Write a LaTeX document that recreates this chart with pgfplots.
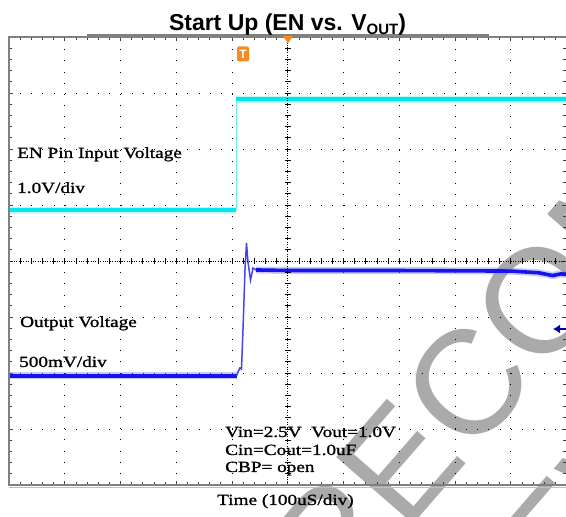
\documentclass[border=0pt]{standalone}
\usepackage{pgfplots}
\pgfplotsset{compat=1.18}
\usetikzlibrary{arrows.meta}
\usepackage{fontspec}
\setmainfont{Liberation Serif}
\newfontfamily\lab[FakeStretch=1.24, FakeBold=1.2]{Liberation Serif}
\newfontfamily\tit{Liberation Sans}
\definecolor{cyantr}{RGB}{0,232,236}
\definecolor{bluetr}{RGB}{20,20,235}
\definecolor{darkbl}{RGB}{0,0,160}
\definecolor{orT}{RGB}{247,140,30}
\definecolor{framegray}{RGB}{128,128,128}
\definecolor{wm}{RGB}{170,170,170}
\begin{document}
\begin{tikzpicture}[x=1pt,y=1pt]
\begin{axis}[name=ax, at={(0,0)}, anchor=south west, scale only axis,
  set layers,
  width=557.5pt, height=448pt,
  xmin=-5, xmax=5, ymin=-4, ymax=4,
  xtick={-5,...,5}, ytick={-4,...,4},
  minor x tick num=4, minor y tick num=4,
  xticklabels={}, yticklabels={},
  tick align=inside,
  major tick length=4pt, minor tick length=3pt,
  tick style={black!75, line width=0.7pt},
  axis line style={draw=none},
  grid=major,
  major grid style={black, line width=0.9pt, dash pattern=on 0.9pt off 10.25pt},
  clip=false]
\begin{pgfonlayer}{axis background}
\node[rotate=49, anchor=base west, inner sep=0, text=wm, font=\tit\fontsize{148}{148}\selectfont] at (axis cs:0.86,-6.30) {RECOMMENDED};
\node[rotate=49, anchor=base west, inner sep=0, text=wm, font=\tit\fontsize{148}{148}\selectfont] at (axis cs:3.725,-7.69) {NEW DESIGN};
\end{pgfonlayer}
% EN (cyan)
\addplot[cyantr!55, line width=7pt, opacity=0.45] coordinates {(-5,0.91) (-0.925,0.91)};
\addplot[cyantr, line width=3.8pt] coordinates {(-5,0.91) (-0.925,0.91)};
\addplot[cyantr!60, line width=1pt] coordinates {(-0.925,0.91) (-0.925,2.89)};
\addplot[cyantr!55, line width=7pt, opacity=0.45] coordinates {(-0.925,2.89) (5,2.89)};
\addplot[cyantr, line width=3.8pt] coordinates {(-0.925,2.89) (5,2.89)};
% VOUT (blue)
\addplot[bluetr!55, line width=7pt, opacity=0.4] coordinates {(-5,-2.05) (-0.916,-2.05)};
\addplot[bluetr, line width=3.6pt] coordinates {(-5,-2.05) (-0.916,-2.05)};
\addplot[bluetr!80, line width=1.5pt] coordinates {(-0.916,-2.05) (-0.892,-1.98) (-0.857,-1.91) (-0.830,-1.93) (-0.803,-1.23) (-0.767,-0.16) (-0.740,0.32) (-0.713,-0.02) (-0.668,-0.34) (-0.623,-0.125) (-0.57,-0.16)};
\addplot[bluetr!55, line width=7pt, opacity=0.4] coordinates {(-0.57,-0.16) (0,-0.17) (2,-0.17) (4,-0.18) (4.5,-0.21) (4.75,-0.26) (4.9,-0.23) (5,-0.24)};
\addplot[bluetr, line width=3.6pt] coordinates {(-0.57,-0.16) (0,-0.17) (2,-0.17) (4,-0.18) (4.5,-0.21) (4.75,-0.26) (4.9,-0.23) (5,-0.24)};
\end{axis}
\begin{scope}[shift={(ax.south west)}, xshift=-9pt, yshift=-32pt]
% center lines of graticule
\draw[black, line width=0.8pt, dash pattern=on 0.8pt off 1.6pt] (9,256) -- (566.5,256);
\draw[black, line width=0.8pt, dash pattern=on 0.8pt off 1.6pt] (287.75,32) -- (287.75,480);
\foreach \k in {1,...,49} {\draw[black, line width=0.7pt] (9+\k*11.15,253) -- (9+\k*11.15,259);}
\foreach \k in {1,...,39} {\draw[black, line width=0.7pt] (284.75,32+\k*11.2) -- (290.75,32+\k*11.2);}
% frame
\draw[framegray, line width=2.5pt] (567,480) -- (9,480) -- (9,32) -- (567,32);
\draw[framegray, line width=2.5pt] (87,482) -- (489,482);
\draw[black!25, line width=1.5pt] (9,29.5) -- (566,29.5);
% scope markers
\fill[orT] (283,481) -- (293,481) -- (288,473.5) -- cycle;
\node[fill=orT, rounded corners=2pt, minimum width=12pt, minimum height=15pt, inner sep=0pt, text=white, font=\tit\bfseries\fontsize{12}{12}\selectfont] at (243,463) {T};
\draw[-{Latex[length=7pt,width=9pt]}, darkbl, line width=2.2pt] (568,188) -- (553,188);
% title
\node[anchor=base, inner sep=0] at (287.5,486) {\tit\bfseries\fontsize{23}{27}\selectfont Start Up (EN vs. V\raisebox{-3.5pt}{\fontsize{15}{15}\selectfont OUT})};
% labels
\begin{scope}[every node/.style={anchor=base west, inner sep=0, font=\lab\fontsize{15.5}{18}\selectfont}]
\node at (17,359) {EN Pin Input Voltage};
\node at (17,324) {1.0V/div};
\node at (20,190) {Output Voltage};
\node at (19,150) {500mV/div};
\node at (225,80) {Vin=2.5V\ \ Vout=1.0V};
\node at (225,62) {Cin=Cout=1.0uF};
\node at (225,45) {CBP= open};
\node at (217,12) {Time (100uS/div)};
\end{scope}
\pgfresetboundingbox
\path[use as bounding box] (0,0) rectangle (566,517);
\end{scope}
\end{tikzpicture}
\end{document}
